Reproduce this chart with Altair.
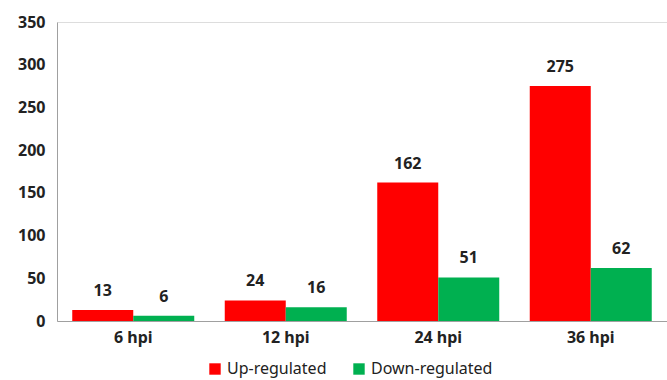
import altair as alt
import pandas as pd

categories = ["6 hpi", "12 hpi", "24 hpi", "36 hpi"]
series = ["Up-regulated", "Down-regulated"]
up_values = [13, 24, 162, 275]
down_values = [6, 16, 51, 62]
colors = ["#FF0000", "#00B050"]

rows = []
for c, u, d in zip(categories, up_values, down_values):
    rows.append({"time": c, "type": series[0], "count": u})
    rows.append({"time": c, "type": series[1], "count": d})
df = pd.DataFrame(rows)

FONT = "Noto Sans"

x = alt.X("time:N", sort=categories, title=None,
          scale=alt.Scale(paddingInner=0.2, paddingOuter=0.1),
          axis=alt.Axis(labelAngle=0, labelFontWeight="bold", labelFontSize=16,
                        labelFont=FONT, labelColor="#222222", ticks=False,
                        domainColor="#a0a0a0", labelPadding=8))
y = alt.Y("count:Q", title=None,
          scale=alt.Scale(domain=[0, 350], nice=False),
          axis=alt.Axis(values=[0, 50, 100, 150, 200, 250, 300, 350], grid=False,
                        ticks=False, labelFontWeight="bold", labelFontSize=16,
                        labelFont=FONT, labelColor="#222222", domainColor="#a0a0a0",
                        labelPadding=12))
xoff = alt.XOffset("type:N", sort=series, scale=alt.Scale(paddingInner=0, paddingOuter=0))

bars = alt.Chart(df).mark_bar().encode(
    x=x, y=y, xOffset=xoff,
    color=alt.Color("type:N", sort=series,
                    scale=alt.Scale(domain=series, range=colors),
                    legend=alt.Legend(title=None, orient="none", direction="horizontal",
                                      legendX=150, legendY=339, symbolType="square",
                                      symbolSize=130, labelFontSize=16, labelFont=FONT,
                                      labelColor="#222222", columnPadding=24,
                                      symbolOpacity=1, symbolStrokeWidth=0)),
)

labels = alt.Chart(df).mark_text(fontWeight="bold", fontSize=16, font=FONT,
                                 color="#222222", baseline="middle", dy=-19).encode(
    x=x, y=y, xOffset=xoff, text="count:Q"
)

chart = (bars + labels).properties(
    width=610, height=299,
    padding={"left": 57, "top": 22, "right": 0, "bottom": 59},
    autosize=alt.AutoSizeParams(type="none"),
).configure_view(stroke=None).configure(background="white")

chart.save("out.html", embed_options={"renderer": "svg", "actions": False})
